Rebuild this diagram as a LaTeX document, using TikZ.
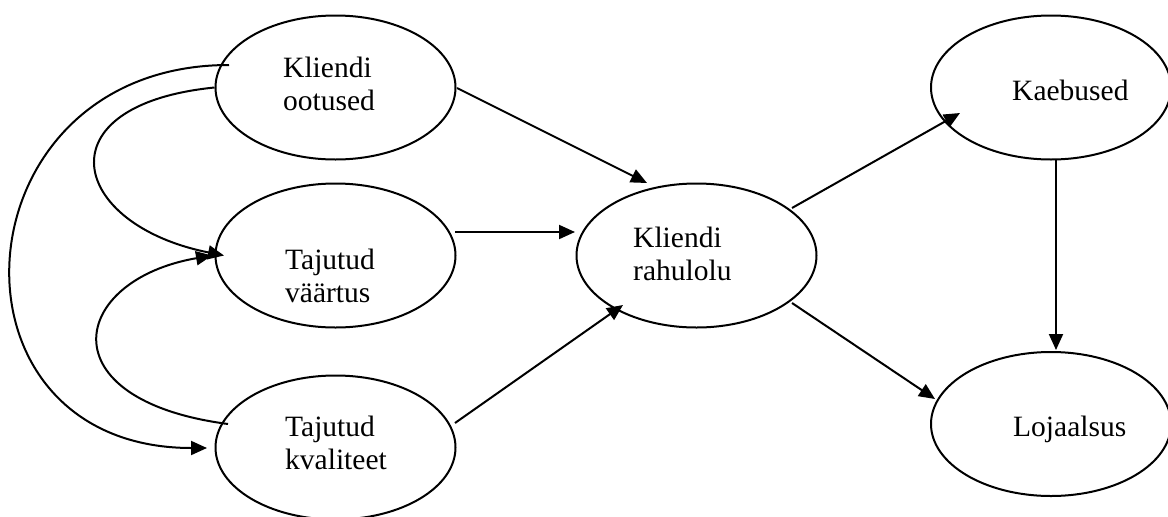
\documentclass[tikz,border=0pt]{standalone}
\usepackage{fontspec}
\setmainfont{Liberation Serif}
\usetikzlibrary{arrows.meta,shapes.geometric,calc}
\begin{document}
\begin{tikzpicture}[x=1pt,y=-1pt,
  bubble/.style={draw,ellipse,line width=2pt,minimum width=240pt,minimum height=144pt,inner sep=0pt},
  caption/.style={anchor=base west,inner sep=0pt,font=\fontsize{29.5}{33}\selectfont},
  arr/.style={line width=2pt,-{Triangle[length=16pt,width=14pt]}}]
\useasboundingbox (0,0) rectangle (1168,517);

% ellipses
\node[bubble] (oo) at (335.5,87.5) {};
\node[bubble] (vt) at (335.5,255.5) {};
\node[bubble] (kv) at (335.5,447.5) {};
\node[bubble] (rh) at (696.5,255.5) {};
\node[bubble] (kb) at (1051,87.5) {};
\node[bubble] (lj) at (1051,424) {};

% labels
\node[caption] (ooT) at (283,77.7) {\begin{tabular}[t]{@{}l@{}}Kliendi\\ootused\end{tabular}};
\node[caption] (vtT) at (285,269) {\begin{tabular}[t]{@{}l@{}}Tajutud\\väärtus\end{tabular}};
\node[caption] (kvT) at (285,436) {\begin{tabular}[t]{@{}l@{}}Tajutud\\kvaliteet\end{tabular}};
\node[caption] (rhT) at (633,247) {\begin{tabular}[t]{@{}l@{}}Kliendi\\rahulolu\end{tabular}};
\node[caption] (kbT) at (1012,100.7) {Kaebused};
\node[caption] (ljT) at (1013,436.7) {Lojaalsus};

% curved links on the left
\draw[arr] ($(oo.center)+(-106.5,-22.5)$) .. controls (-46,65) and (-68,448) .. ($(kv.center)+(-128.5,0.5)$);
\draw[arr] (oo.west) .. controls (40,105) and (70,225) .. ($(vt.center)+(-111.5,0)$);
\draw[arr] ($(kv.center)+(-107.5,-23.5)$) .. controls (45,400) and (70,280) .. ($(vt.center)+(-123.5,0)$);

% straight links
\draw[arr] ($(oo.center)+(121.5,0.5)$) -- ($(rh.center)+(-49.5,-72.5)$);
\draw[arr] ($(vt.center)+(119.5,-23.5)$) -- ($(rh.center)+(-121.5,-23.5)$);
\draw[arr] ($(kv.center)+(119.5,-24.5)$) -- ($(rh.center)+(-73.5,49.5)$);
\draw[arr] ($(rh.center)+(95.5,-47.5)$) -- ($(kb.center)+(-91,25.5)$);
\draw[arr] ($(rh.center)+(95.5,47.5)$) -- ($(lj.center)+(-116,-25)$);
\draw[arr] ($(kb.center)+(5,71.5)$) -- ($(lj.center)+(5,-74)$);
\end{tikzpicture}
\end{document}
